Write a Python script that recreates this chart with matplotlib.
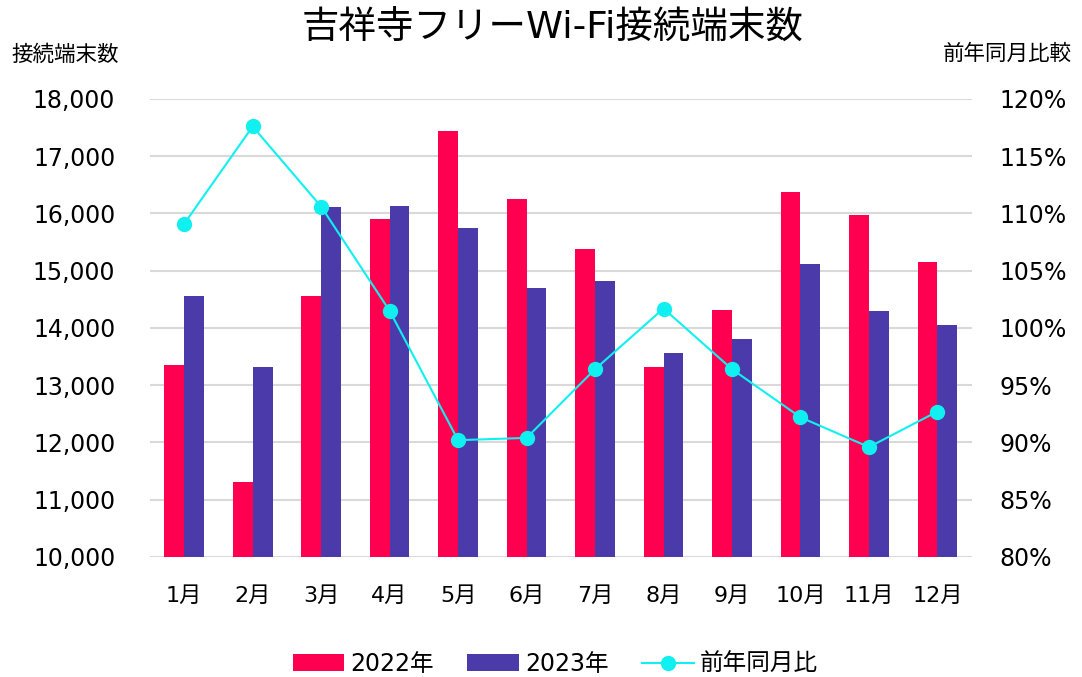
import matplotlib
matplotlib.use("Agg")
import matplotlib.pyplot as plt
import numpy as np

plt.rcParams['font.family'] = ['DejaVu Sans', 'Noto Sans CJK JP']

# Data
months = ["1月", "2月", "3月", "4月", "5月", "6月", "7月", "8月", "9月", "10月", "11月", "12月"]
y2022 = [13350, 11310, 14560, 15900, 17440, 16250, 15380, 13320, 14310, 16380, 15970, 15150]
y2023 = [14560, 13320, 16110, 16130, 15750, 14700, 14820, 13560, 13810, 15120, 14300, 14050]
ratio = [109.1, 117.6, 110.6, 101.5, 90.2, 90.4, 96.4, 101.7, 96.4, 92.2, 89.6, 92.7]

red = "#FF0050"
purple = "#4B3BAA"
cyan = "#10F0F0"

fig = plt.figure(figsize=(10.82, 6.77), dpi=100)
ax = fig.add_axes([0.1386, 0.1773, 0.7594, 0.6765])
x = np.arange(len(months))
w = 0.29

b1 = ax.bar(x - w/2, y2022, w, color=red, label="2022年", zorder=2)
b2 = ax.bar(x + w/2, y2023, w, color=purple, label="2023年", zorder=2)

ax.set_ylim(10000, 18000)
ax.set_xlim(-0.5, 11.5)
ax.set_yticks(np.arange(10000, 18001, 1000))
ax.set_yticklabels([f"{v:,}" for v in range(10000, 18001, 1000)])
ax.set_xticks(x)
ax.set_xticklabels(months)
ax.grid(axis="y", color="#D9D9D9", linewidth=1.5, zorder=0)
for s in ax.spines.values():
    s.set_visible(False)
ax.tick_params(axis="y", length=0, labelsize=17, pad=25)
ax.tick_params(axis="x", length=0, labelsize=16, pad=21)

ax2 = ax.twinx()
ln, = ax2.plot(x, ratio, color=cyan, linewidth=1.5, marker="o", markersize=10, label="前年同月比", zorder=3)
ax2.set_ylim(80, 120)
ax2.set_yticks(np.arange(80, 121, 5))
ax2.set_yticklabels([f"{v}%" for v in range(80, 121, 5)])
for s in ax2.spines.values():
    s.set_visible(False)
ax2.tick_params(axis="y", length=0, labelsize=17, pad=20)

fig.text(0.011, 0.92, "接続端末数", fontsize=15.5, ha="left", va="center")
fig.text(0.991, 0.92, "前年同月比較", fontsize=15.5, ha="right", va="center")
fig.text(0.511, 0.957, "吉祥寺フリーWi-Fi接続端末数", fontsize=27, ha="center", va="center")

fig.legend([b1, b2, ln], ["2022年", "2023年", "前年同月比"], loc="center", bbox_to_anchor=(0.513, 0.019),
           ncol=3, frameon=False, fontsize=17, handlelength=2.2, handleheight=0.72, columnspacing=1.4,
           handletextpad=0.25)

fig.savefig("out.png", dpi=100)
